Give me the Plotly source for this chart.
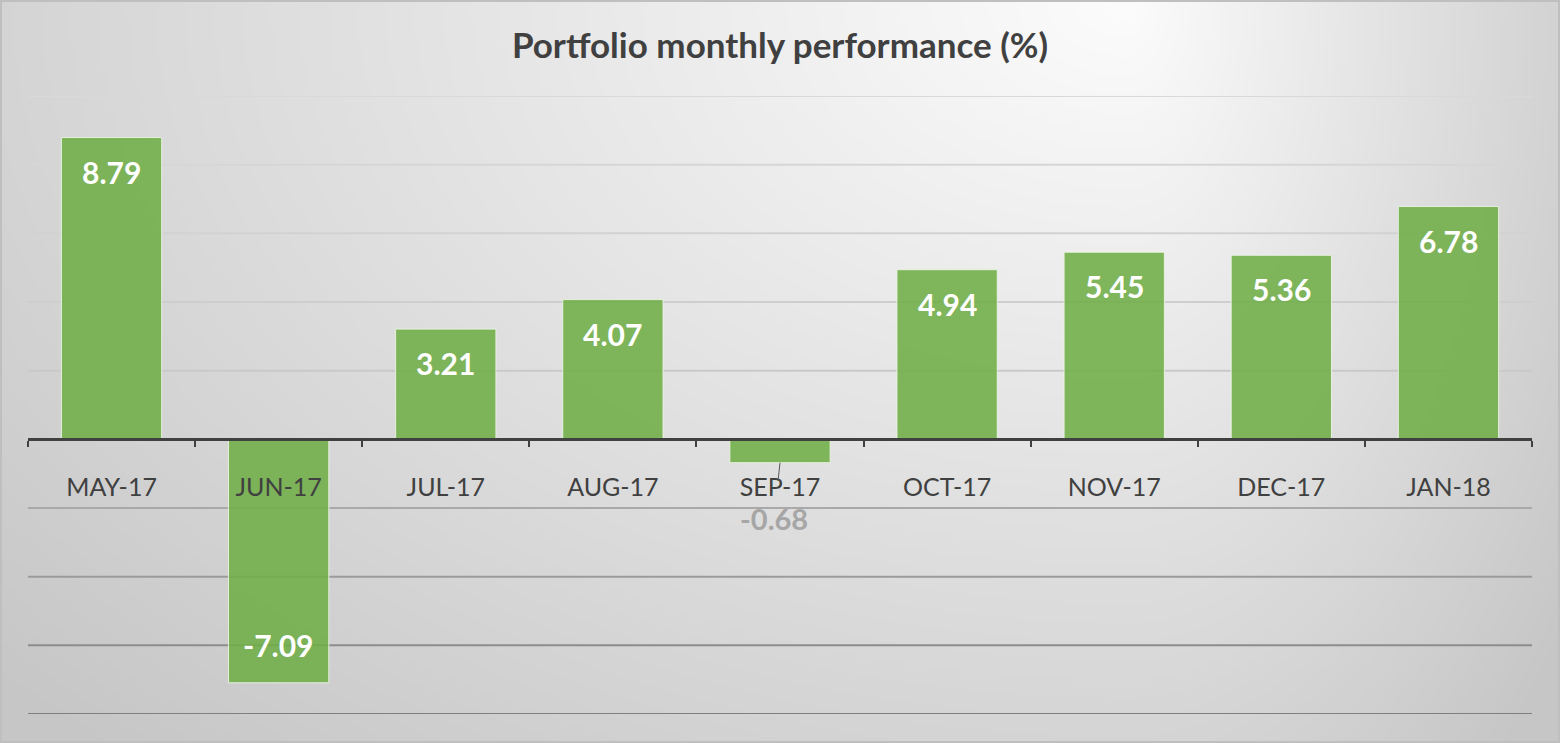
import base64
import struct
import zlib

import numpy as np
import plotly.graph_objects as go

# ---------------- data ----------------
MONTHS = ["MAY-17", "JUN-17", "JUL-17", "AUG-17", "SEP-17",
          "OCT-17", "NOV-17", "DEC-17", "JAN-18"]
PERFORMANCE = [8.79, -7.09, 3.21, 4.07, -0.68, 4.94, 5.45, 5.36, 6.78]
GRID_VALUES = [10, 8, 6, 4, 2, -2, -4, -6, -8]
GRID_COLORS = ["#d9d9d9", "#d6d6d6", "#d2d2d2", "#cecece", "#c9c9c9",
               "#a9a9a9", "#9b9b9b", "#8d8d8d", "#7f7f7f"]
TITLE = "Portfolio monthly performance (%)"

W, H = 1560, 743
ML, MR, MT, MB = 28, 28, 96, 29
PW, PH = W - ML - MR, H - MT - MB


# ---------------- background gradient image ----------------
def gradient_png(w, h):
    xs = np.linspace(0, W, w)
    ys = np.linspace(0, H, h)
    X, Y = np.meshgrid(xs, ys)
    cx, cy = 1130.0, 0.0
    sx = np.where(X < cx, 1150.0, 420.0)
    d = np.sqrt(((X - cx) / sx) ** 2 + ((Y - cy) / 760.0) ** 2)
    v = 252 - 40 * d
    v = np.clip(v, 198, 255).astype(np.uint8)
    raw = b"".join(b"\x00" + v[i].tobytes() for i in range(h))

    def chunk(tag, data):
        c = struct.pack(">I", len(data)) + tag + data
        return c + struct.pack(">I", zlib.crc32(tag + data) & 0xFFFFFFFF)

    png = b"\x89PNG\r\n\x1a\n"
    png += chunk(b"IHDR", struct.pack(">IIBBBBB", w, h, 8, 0, 0, 0, 0))
    png += chunk(b"IDAT", zlib.compress(raw, 9))
    png += chunk(b"IEND", b"")
    return "data:image/png;base64," + base64.b64encode(png).decode()


bg = gradient_png(390, 186)

fig = go.Figure()

fig.add_trace(go.Bar(
    x=MONTHS,
    y=PERFORMANCE,
    width=0.6,
    marker=dict(color="rgba(112,173,71,0.88)",
                line=dict(color="rgba(235,245,228,0.9)", width=1)),
    hoverinfo="x+y",
    showlegend=False,
))

annotations = []
for m, v in zip(MONTHS, PERFORMANCE):
    if abs(v) >= 2:
        annotations.append(dict(
            x=m, y=v, xref="x", yref="y", text=f"{v:.2f}", showarrow=False,
            yshift=-34 if v > 0 else 38,
            font=dict(family="Lato", size=30, color="white", weight="bold"),
        ))
    else:
        annotations.append(dict(
            x=m, y=v, xref="x", yref="y", text=f"{v:.2f}", showarrow=True,
            arrowhead=0, arrowwidth=1, arrowcolor="#595959",
            ax=-6, ay=56, startstandoff=20, borderpad=0,
            font=dict(family="Lato", size=29, color="#a6a6a6", weight="bold"),
        ))

shapes = []
for gv, gc in zip(GRID_VALUES, GRID_COLORS):
    shapes.append(dict(type="line", xref="paper", yref="y", x0=0, x1=1,
                       y0=gv, y1=gv, layer="below",
                       line=dict(color=gc, width=2)))
# chart border
shapes.append(dict(type="rect", xref="paper", yref="paper",
                   x0=(-ML + 1) / PW, x1=(PW + MR - 1) / PW,
                   y0=(-MB + 1) / PH, y1=1 + (MT - 1) / PH,
                   layer="above", line=dict(color="#bfbfbf", width=2)))

fig.update_layout(
    width=W, height=H, autosize=False,
    margin=dict(l=ML, r=MR, t=MT, b=MB, pad=0),
    paper_bgcolor="#d9d9d9",
    plot_bgcolor="rgba(0,0,0,0)",
    title=dict(text=TITLE, x=0.5, xref="paper", xanchor="center",
               y=1 - 46 / H, yanchor="middle",
               font=dict(family="Lato", size=35, color="#404040", weight="bold")),
    images=[dict(source=bg, xref="paper", yref="paper",
                 x=-ML / PW, y=1 + MT / PH, sizex=W / PW, sizey=H / PH,
                 xanchor="left", yanchor="top", sizing="stretch",
                 layer="below")],
    shapes=shapes,
    annotations=annotations,
    xaxis=dict(type="category", anchor="free", position=8 / 18,
               showline=True, linecolor="#404040", linewidth=2.5,
               ticks="outside", tickson="boundaries", ticklen=6,
               tickwidth=2, tickcolor="#404040",
               ticklabelstandoff=25,
               tickfont=dict(family="Lato", size=25, color="#404040"),
               showgrid=False, zeroline=False, fixedrange=True),
    yaxis=dict(range=[-8, 10], showticklabels=False, showgrid=False,
               zeroline=False, ticks="", fixedrange=True),
    bargap=0.4,
)

fig.write_html("out.html")
